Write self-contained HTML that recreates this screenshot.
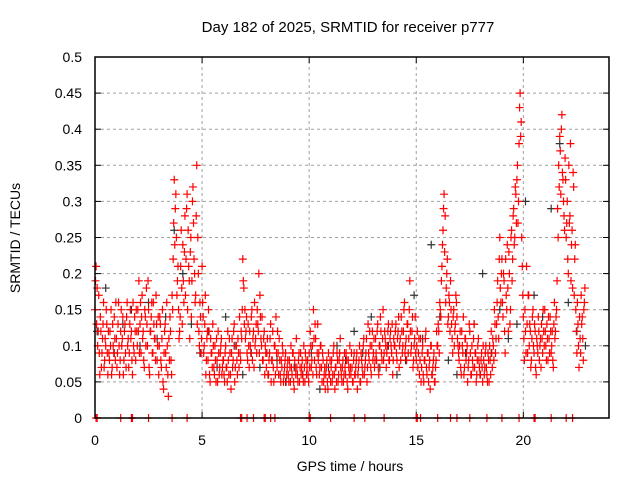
<!DOCTYPE html>
<html><head><meta charset="utf-8">
<style>
html,body{margin:0;padding:0;background:#fff;}
svg{display:block;font-family:"Liberation Sans",sans-serif;}
</style></head>
<body>
<svg id="chart" width="640" height="480" viewBox="0 0 640 480" xmlns="http://www.w3.org/2000/svg">
<rect width="640" height="480" fill="#fff"/>
<text x="348" y="32" font-size="15" text-anchor="middle">Day 182 of 2025, SRMTID for receiver p777</text>
<text x="350" y="471" font-size="14" text-anchor="middle">GPS time / hours</text>
<text x="20" y="238" font-size="14" text-anchor="middle" transform="rotate(-90 20 238)">SRMTID / TECUs</text>
<g id="grid"></g>
<g id="ticks"></g>
<g id="black"></g>
<g id="red"></g>
<rect x="95" y="57" width="514" height="361" fill="none" stroke="#000" stroke-width="1.5"/>
</svg>
<script>
const xTicks=[0,5,10,15,20];
const yTicks=[0,0.05,0.1,0.15,0.2,0.25,0.3,0.35,0.4,0.45,0.5];
const yTickLabels=["0","0.05","0.1","0.15","0.2","0.25","0.3","0.35","0.4","0.45","0.5"];
const redStart=0, redStep=0.05;
const redV=[
.15,.21,.18,.12,.09,.14,.07,.11,.16,.08,.10,.13,.06,.09,.12,.15,.07,.10,.14,.08,
.11,.09,.16,.06,.12,.10,.14,.08,.13,.07,.16,.11,.09,.15,.12,.06,.10,.14,.08,.12,
.15,.19,.13,.09,.17,.12,.07,.14,.18,.10,.15,.06,.12,.16,.09,.13,.11,.17,.08,.14,
.10,.13,.07,.15,.04,.12,.09,.16,.06,.11,.14,.08,.17,.22,.33,.29,.25,.19,.15,.12,
.21,.18,.24,.16,.28,.22,.31,.26,.19,.23,.14,.30,.27,.20,.17,.35,.25,.12,.16,.09,
.21,.14,.10,.17,.08,.12,.15,.06,.11,.09,.13,.07,.10,.05,.08,.12,.06,.09,.11,.07,
.08,.05,.10,.07,.12,.06,.09,.04,.11,.08,.13,.07,.10,.06,.09,.14,.08,.11,.22,.18,
.15,.12,.09,.13,.07,.10,.14,.08,.12,.16,.11,.09,.13,.20,.17,.11,.14,.08,.12,.10,
.07,.11,.06,.09,.13,.08,.12,.05,.10,.14,.07,.09,.11,.06,.08,.10,.05,.07,.09,.06,
.08,.05,.07,.10,.06,.09,.04,.07,.11,.06,.08,.05,.09,.07,.06,.10,.05,.08,.07,.06,
.09,.12,.07,.10,.15,.08,.11,.06,.13,.09,.07,.10,.05,.08,.06,.04,.07,.05,.09,.06,
.05,.08,.06,.10,.04,.07,.09,.05,.08,.11,.06,.07,.05,.09,.06,.08,.04,.07,.10,.06,
.07,.05,.09,.06,.08,.04,.07,.10,.05,.08,.06,.11,.07,.09,.05,.13,.08,.10,.06,.12,
.09,.07,.11,.08,.13,.06,.10,.12,.08,.15,.09,.11,.07,.10,.13,.08,.12,.09,.06,.11,
.10,.13,.08,.12,.07,.11,.14,.09,.12,.16,.10,.08,.13,.11,.19,.09,.12,.07,.10,.14,
.08,.12,.09,.06,.11,.07,.10,.05,.08,.12,.06,.09,.07,.04,.10,.06,.08,.05,.07,.12,
.10,.12,.16,.14,.21,.26,.31,.28,.18,.22,.14,.16,.19,.13,.09,.15,.12,.17,.14,.10,
.08,.12,.06,.10,.14,.07,.11,.09,.05,.08,.12,.06,.10,.07,.13,.09,.05,.08,.11,.07,
.06,.09,.05,.08,.07,.10,.06,.09,.05,.08,.12,.07,.10,.15,.09,.13,.19,.11,.25,.16,
.22,.14,.19,.09,.17,.24,.12,.20,.15,.26,.22,.29,.25,.31,.33,.27,.38,.45,.41,.21,
.14,.08,.12,.21,.09,.17,.13,.07,.11,.15,.09,.12,.06,.10,.14,.08,.11,.13,.09,.12,
.15,.10,.13,.08,.11,.14,.09,.12,.07,.16,.12,.15,.29,.35,.39,.31,.42,.33,.28,.36,
.25,.30,.20,.27,.38,.24,.18,.32,.22,.15,.09,.13,.07,.11,.17,.14,.08,.16];
const red2Start=0.025, red2Step=0.05;
const redV2=[
.19,.13,.10,.17,.06,.12,.09,.13,.07,.11,.15,.09,.12,.08,.10,.06,.13,.09,.11,.16,
.07,.13,.10,.08,.15,.11,.06,.12,.09,.14,.10,.07,.13,.11,.08,.16,.09,.12,.15,.10,
.12,.09,.16,.14,.11,.08,.15,.10,.13,.19,.07,.12,.14,.09,.16,.11,.08,.13,.10,.06,
.14,.08,.11,.05,.09,.13,.07,.10,.03,.08,.12,.06,.15,.27,.24,.31,.17,.21,.11,.14,
.26,.13,.19,.23,.17,.29,.15,.21,.11,.25,.19,.32,.22,.16,.28,.13,.20,.10,.14,.11,
.16,.09,.13,.06,.11,.08,.12,.05,.09,.07,.10,.06,.08,.11,.05,.09,.07,.10,.06,.08,
.06,.09,.07,.05,.08,.11,.06,.09,.07,.12,.05,.10,.08,.11,.07,.09,.12,.15,.19,.13,
.11,.14,.08,.10,.12,.09,.15,.11,.07,.10,.13,.15,.12,.09,.14,.10,.08,.11,.06,.09,
.09,.06,.08,.11,.05,.08,.07,.10,.06,.09,.12,.06,.08,.05,.07,.09,.06,.08,.05,.07,
.06,.08,.05,.07,.09,.05,.08,.06,.07,.05,.09,.07,.06,.08,.05,.07,.09,.06,.08,.05,
.07,.10,.08,.06,.11,.13,.07,.09,.08,.06,.10,.07,.09,.05,.07,.06,.08,.04,.06,.08,
.07,.05,.09,.06,.07,.05,.08,.06,.09,.07,.05,.08,.06,.07,.09,.05,.08,.06,.07,.09,
.05,.08,.06,.07,.09,.06,.08,.05,.09,.07,.10,.06,.08,.11,.07,.09,.12,.07,.10,.08,
.11,.08,.09,.12,.07,.10,.14,.09,.11,.08,.12,.10,.09,.12,.08,.11,.10,.13,.08,.10,
.12,.09,.11,.14,.10,.08,.12,.10,.15,.09,.11,.13,.09,.15,.12,.10,.14,.08,.11,.09,
.10,.07,.11,.08,.05,.09,.06,.08,.11,.07,.09,.05,.08,.10,.06,.07,.09,.05,.08,.10,
.13,.09,.15,.19,.24,.29,.23,.16,.20,.13,.17,.12,.15,.11,.14,.10,.13,.16,.11,.09,
.10,.07,.12,.09,.06,.11,.08,.10,.07,.13,.09,.06,.08,.11,.07,.09,.06,.10,.08,.06,
.08,.07,.10,.06,.09,.07,.05,.08,.10,.06,.09,.11,.08,.13,.11,.16,.14,.22,.18,.20,
.16,.20,.12,.22,.15,.18,.23,.13,.25,.19,.28,.24,.32,.27,.35,.30,.43,.39,.25,.17,
.11,.15,.09,.13,.17,.10,.12,.08,.14,.10,.13,.07,.11,.09,.12,.10,.07,.11,.15,.10,
.12,.08,.11,.14,.09,.12,.10,.08,.13,.11,.14,.19,.25,.32,.37,.40,.34,.30,.26,.33,
.27,.22,.35,.28,.19,.26,.34,.17,.24,.12,.16,.10,.14,.09,.13,.11,.15,.18];
const blackStart=0.1, blackStep=0.4;
const blackV=[.12,.18,.09,.13,.15,.10,.16,.11,.14,.26,.20,.13,.09,.12,.07,.14,.10,.06,.09,.07,.06,.08,.05,.07,.06,.09,.04,.07,.10,.08,.12,.09,.14,.07,.10,.06,.08,.17,.11,.24,.14,.08,.06,.09,.13,.20,.09,.15,.11,.13,.30,.17,.14,.29,.38,.16,.12,.10];
const zeroT=[0.05,0.1,1.2,1.7,1.75,2.5,3.6,4.3,6.8,6.85,7.1,7.4,7.9,7.95,8.2,8.4,10.0,10.05,11.0,12.1,12.6,13.5,15.0,15.05,15.2,16.0,16.6,16.9,17.5,18.3,19.0,19.8,20.5,20.55,21.3,22.0,22.3];

const X0=95,X1=609,Y0=418,Y1=57,XMAX=24,YMAX=0.5;
const sx=t=>X0+(X1-X0)*t/XMAX;
const sy=v=>Y0-(Y0-Y1)*v/YMAX;
const NS="http://www.w3.org/2000/svg";
function mk(tag,attrs,parent){const e=document.createElementNS(NS,tag);for(const k in attrs)e.setAttribute(k,attrs[k]);parent.appendChild(e);return e;}
const grid=document.getElementById('grid'),ticks=document.getElementById('ticks');
yTicks.forEach((v,i)=>{
  const y=sy(v);
  if(i>0&&i<yTicks.length-1){const g=mk('line',{x1:X0,x2:X1,y1:y,y2:y,stroke:'#a0a0a0','stroke-dasharray':'3,3'},grid);
  
  }
  mk('line',{x1:X0,x2:X0+6,y1:y,y2:y,stroke:'#000'},ticks);
  mk('line',{x1:X1,x2:X1-6,y1:y,y2:y,stroke:'#000'},ticks);
  const t=mk('text',{x:82,y:y+5,'font-size':14,'text-anchor':'end'},ticks);
  
  
  t.textContent=yTickLabels[i];
});
xTicks.forEach(v=>{
  const x=sx(v);
  if(v>0){const g=mk('line',{x1:x,x2:x,y1:Y0,y2:Y1,stroke:'#a0a0a0','stroke-dasharray':'3,3'},grid);
  
  }
  mk('line',{x1:x,x2:x,y1:Y0,y2:Y0-6,stroke:'#000'},ticks);
  mk('line',{x1:x,x2:x,y1:Y1,y2:Y1+6,stroke:'#000'},ticks);
  const t=mk('text',{x:x,y:445,'font-size':14,'text-anchor':'middle'},ticks);
  
  
  t.textContent=String(v);
});
function plus(t,v,g,color){
  const x=sx(t),y=sy(v);
  const p=mk('path',{d:`M${x-4},${y}H${x+4}M${x},${y-4}V${y+4}`,stroke:color,'stroke-width':1.2,fill:'none'},g);
  
  
}
const bg=document.getElementById('black'),rg=document.getElementById('red');
blackV.forEach((v,i)=>plus(blackStart+i*blackStep,v,bg,'#333'));
redV.forEach((v,i)=>plus(redStart+i*redStep,v,rg,'#ff0000'));
redV2.forEach((v,i)=>plus(red2Start+i*red2Step,v,rg,'#ff0000'));
zeroT.forEach(t=>plus(t,0,rg,'#ff0000'));
</script>
</body></html>
